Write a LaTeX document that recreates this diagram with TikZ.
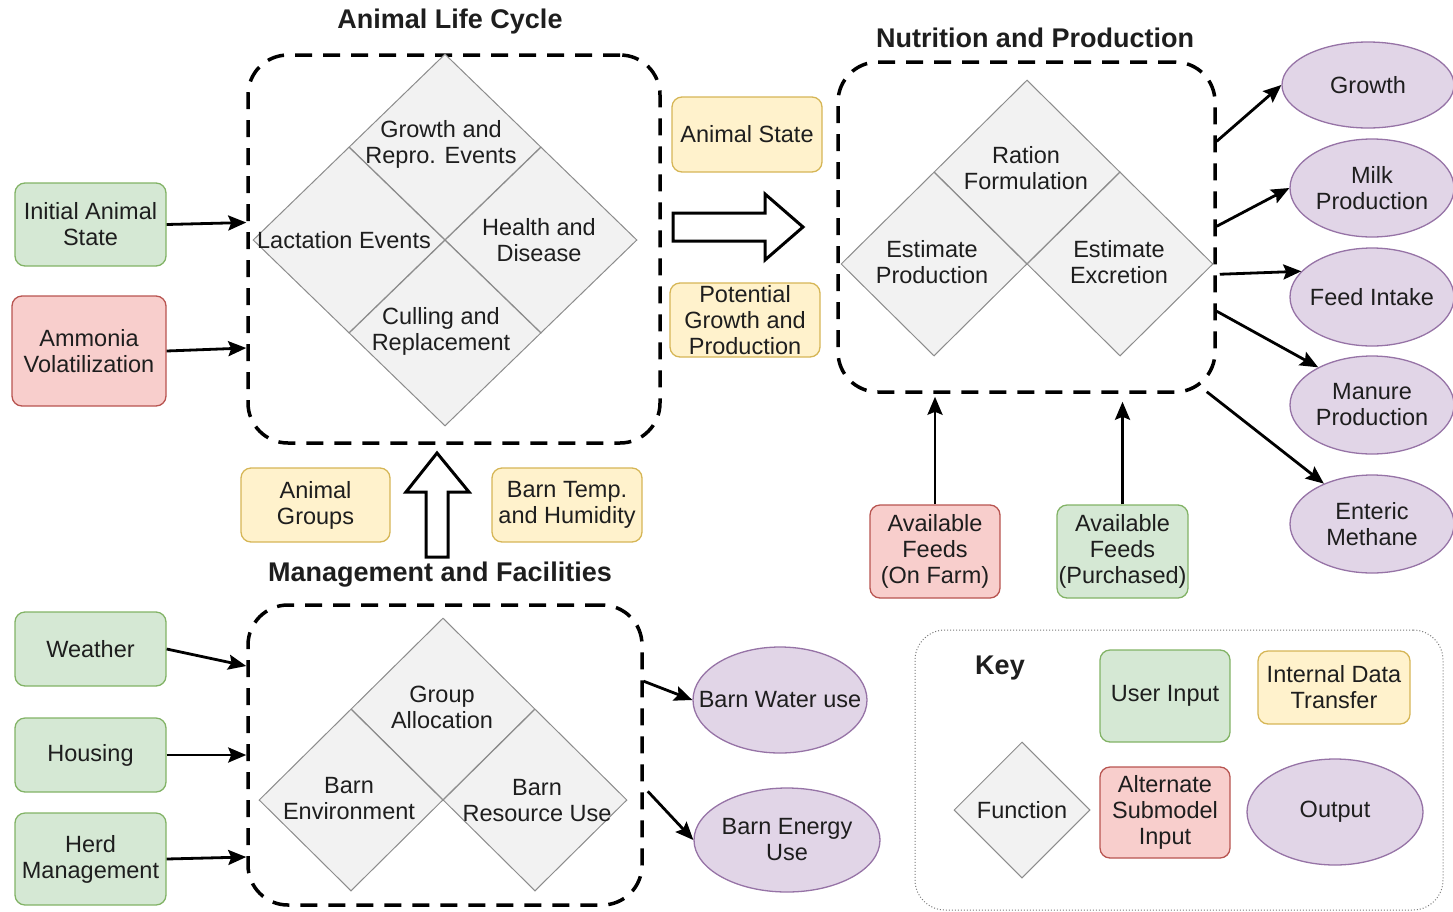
\documentclass[tikz,border=0pt]{standalone}
\usepackage{fontspec}
\setmainfont{Liberation Sans}
\usetikzlibrary{shapes.geometric,arrows.meta,calc}
\definecolor{gfill}{HTML}{D5E8D4}\definecolor{gline}{HTML}{82B366}
\definecolor{rfill}{HTML}{F8CECC}\definecolor{rline}{HTML}{B85450}
\definecolor{yfill}{HTML}{FFF2CC}\definecolor{yline}{HTML}{D6B656}
\definecolor{pfill}{HTML}{E1D5E7}\definecolor{pline}{HTML}{9673A6}
\definecolor{dfill}{HTML}{F2F2F2}\definecolor{dline}{HTML}{8C8C8C}
\definecolor{ink}{HTML}{1E1E1E}\definecolor{keyline}{HTML}{7A7A7A}
\tikzset{
 txt/.style={font=\fontsize{23.5}{26}\selectfont, text=ink, align=center, inner sep=0pt},
 ttl/.style={font=\fontsize{27}{30}\selectfont\bfseries, text=ink, inner sep=0pt},
 rbox/.style={txt, rectangle, rounded corners=10pt, line width=1.3pt},
 ubox/.style={rbox, fill=gfill, draw=gline},
 abox/.style={rbox, fill=rfill, draw=rline},
 ibox/.style={rbox, fill=yfill, draw=yline},
 outp/.style={ellipse, fill=pfill, draw=pline, line width=1.3pt, inner sep=0pt},
 fn/.style={diamond, fill=dfill, draw=dline, line width=1pt, inner sep=0pt},
 grp/.style={rectangle, rounded corners=40pt, draw=black, line width=3.5pt, dash pattern=on 17pt off 11pt, inner sep=0pt},
 keybox/.style={rectangle, rounded corners=30pt, draw=keyline, line width=1pt, dotted, inner sep=0pt},
 arr/.style={line width=2.8pt, -{Stealth[length=18pt,width=15pt,inset=3pt]}},
 hollow/.style={draw=black, fill=white, line width=3pt, line join=miter},
}
\begin{document}
\begin{tikzpicture}[x=1pt,y={(0pt,-1pt)}]
\useasboundingbox (0,0) rectangle (1453,911);

% titles
\node[ttl] (t1) at (450,22) {Animal Life Cycle};
\node[ttl] (t2) at (1035,38) {Nutrition and Production};
\node[ttl] (t3) at (440,575) {Management and Facilities};

% group containers
\node[grp, minimum width=412pt, minimum height=388pt] (alc) at (454,249) {};
\node[grp, minimum width=377pt, minimum height=330pt] (np) at (1026.5,227) {};
\node[grp, minimum width=394pt, minimum height=300pt] (mf) at (445,755) {};
\node[keybox, minimum width=528pt, minimum height=280pt] (key) at (1179,770) {};

% Animal life cycle functions
\node[fn, minimum width=192pt, minimum height=186pt] (d1) at (445,147) {};
\node[fn, minimum width=192pt, minimum height=186pt] (d2) at (349,240) {};
\node[fn, minimum width=192pt, minimum height=186pt] (d3) at (541,240) {};
\node[fn, minimum width=192pt, minimum height=186pt] (d4) at (445,333) {};
\node[txt] (d1l) at (441,144) {Growth and\\Repro. Events};
\node[txt] (d2l) at (344,240) {Lactation Events};
\node[txt] (d3l) at (539,240) {Health and\\Disease};
\node[txt] (d4l) at (441,331) {Culling and\\Replacement};

% Nutrition functions
\node[fn, minimum width=186pt, minimum height=184pt] (n1) at (1027,172) {};
\node[fn, minimum width=186pt, minimum height=184pt] (n2) at (934,264) {};
\node[fn, minimum width=186pt, minimum height=184pt] (n3) at (1120,264) {};
\node[txt] (n1l) at (1026,168) {Ration\\Formulation};
\node[txt] (n2l) at (932,262) {Estimate\\Production};
\node[txt] (n3l) at (1119,262) {Estimate\\Excretion};

% Management functions
\node[fn, minimum width=184pt, minimum height=182pt] (m1) at (443,709) {};
\node[fn, minimum width=184pt, minimum height=182pt] (m2) at (351,800) {};
\node[fn, minimum width=184pt, minimum height=182pt] (m3) at (535,800) {};
\node[txt] (m1l) at (442,707) {Group\\Allocation};
\node[txt] (m2l) at (349,799) {Barn\\Environment};
\node[txt] (m3l) at (537,801) {Barn\\Resource Use};

% inputs
\node[ubox, minimum width=151pt, minimum height=83pt] (init) at (90.5,224.5) {Initial Animal\\State};
\node[abox, minimum width=154pt, minimum height=110pt] (amm) at (89,351) {Ammonia\\Volatilization};
\node[ubox, minimum width=151pt, minimum height=74pt] (wea) at (90.5,649) {Weather};
\node[ubox, minimum width=151pt, minimum height=74pt] (hou) at (90.5,755) {Housing};
\node[ubox, minimum width=151pt, minimum height=92pt] (herd) at (90.5,859) {Herd\\Management};
\node[abox, minimum width=130pt, minimum height=93pt] (afo) at (935,551.5) {Available\\Feeds\\(On Farm)};
\node[ubox, minimum width=131pt, minimum height=93pt] (afp) at (1122.5,551.5) {Available\\Feeds\\(Purchased)};

% internal transfers
\node[ibox, minimum width=150pt, minimum height=75pt] (ast) at (747,134.5) {Animal State};
\node[ibox, minimum width=150pt, minimum height=74pt] (pgp) at (745,320) {Potential\\Growth and\\Production};
\node[ibox, minimum width=149pt, minimum height=74pt] (agr) at (315.5,505) {Animal\\Groups};
\node[ibox, minimum width=150pt, minimum height=74pt] (btemp) at (567,505) {Barn Temp.\\and Humidity};

% outputs
\node[outp, minimum width=172pt, minimum height=86pt] (growth) at (1368,85) {};
\node[outp, minimum width=164pt, minimum height=98pt] (milk) at (1372,188) {};
\node[outp, minimum width=164pt, minimum height=98pt] (feed) at (1372,297) {};
\node[outp, minimum width=164pt, minimum height=98pt] (manure) at (1372,405) {};
\node[outp, minimum width=164pt, minimum height=98pt] (enteric) at (1372,524) {};
\node[outp, minimum width=174pt, minimum height=106pt] (water) at (780,700) {};
\node[outp, minimum width=186pt, minimum height=104pt] (energy) at (787,840) {};
\node[txt] (growthl) at (growth) {Growth};
\node[txt] (milkl) at (milk) {Milk\\Production};
\node[txt] (feedl) at (feed) {Feed Intake};
\node[txt] (manurel) at (manure) {Manure\\Production};
\node[txt] (entericl) at (enteric) {Enteric\\Methane};
\node[txt] (waterl) at (water) {Barn Water use};
\node[txt] (energyl) at (energy) {Barn Energy\\Use};

% key
\node[ttl] (keyl) at (1000,668) {Key};
\node[ubox, minimum width=130pt, minimum height=92pt] (kui) at (1165,696) {User Input};
\node[ibox, minimum width=152pt, minimum height=73pt] (kidt) at (1334,687.5) {Internal Data\\Transfer};
\node[fn, minimum width=136pt, minimum height=136pt] (kfn) at (1022,810) {};
\node[txt] (kfnl) at (kfn) {Function};
\node[abox, minimum width=130pt, minimum height=91pt] (kalt) at (1165,812.5) {Alternate\\Submodel\\Input};
\node[outp, minimum width=176pt, minimum height=106pt] (kout) at (1335,812) {};
\node[txt] (koutl) at (kout) {Output};

% hollow arrows
\draw[hollow] (673,213) -- (765,213) -- (765,194) -- (803,227) -- (765,260) -- (765,241) -- (673,241) -- cycle;
\draw[hollow] (426,557) -- (426,492) -- (406,492) -- (437,453) -- (469,492) -- (448,492) -- (448,557) -- cycle;

% connectors
\draw[arr] (init.east) -- ([yshift=2pt]init.east -| alc.west);
\draw[arr] (amm.east) -- ([yshift=3pt]amm.east -| alc.west);
\draw[arr] (wea.east) -- ([yshift=-17pt]wea.east -| mf.west);
\draw[arr] (hou.east) -- (hou.east -| mf.west);
\draw[arr] (herd.east) -- ([yshift=2pt]herd.east -| mf.west);

\draw[arr] ($(np.north east)+(0,81)$) -- (growth.west);
\draw[arr] ($(np.north east)+(0,166)$) -- (milk.west);
\draw[arr] ($(np.north east)+(3,214)$) -- (feed.160);
\draw[arr] ($(np.north east)+(0,251)$) -- (manure.145);
\draw[arr] ($(np.south east)+(-10,-2)$) -- (enteric.140);

\draw[arr] ($(mf.north east)+(0,78)$) -- (water.west);
\draw[arr] ($(mf.north east)+(4,188)$) -- (energy.west);

\draw[arr] (afo.north) -- ([yshift=-3pt]afo.north |- np.south);
\draw[arr] (afp.north) -- ([yshift=-8pt]afp.north |- np.south);
\end{tikzpicture}
\end{document}
